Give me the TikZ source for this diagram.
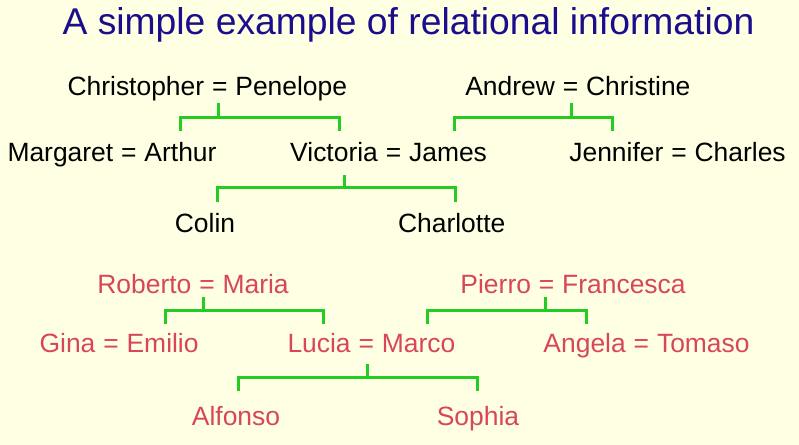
\documentclass[tikz,border=0pt]{standalone}
\usepackage{fontspec}
\setmainfont{Liberation Sans}
\usetikzlibrary{calc,positioning}
\definecolor{paper}{HTML}{FFFFE3}
\definecolor{heading}{HTML}{1A0E8C}
\definecolor{italianred}{HTML}{D8455E}
\definecolor{kinline}{HTML}{22CC22}
\tikzset{
  person/.style={
    font=\fontsize{18.8}{22}\selectfont,
    inner sep=0pt,
    text height=22pt,
    text depth=6.4pt,
    anchor=base
  },
  english/.style={person, text=black},
  italian/.style={person, text=italianred},
  wed/.style={inner xsep=5.2pt},
  title/.style={font=\fontsize{26.5}{30}\selectfont, text=heading, anchor=base},
  kinedge/.style={draw=kinline, line width=0.075cm}
}

\begin{document}
\begin{tikzpicture}[x=0.025cm,y=-0.025cm]
\useasboundingbox (0,0) rectangle (799,445);
\fill[paper] (0,0) rectangle (799,445);

\node[title] (heading) at (408.5,35) {A simple example of relational information};

% english family
\node[english, wed] (cpeq) at (219.8,96) {=};
\node[english, base left=0pt of cpeq] (christopher) {Christopher};
\node[english, base right=0pt of cpeq] (penelope) {Penelope};
\node[english, wed] (aceq) at (570.5,96) {=};
\node[english, base left=0pt of aceq] (andrew) {Andrew};
\node[english, base right=0pt of aceq] (christine) {Christine};

\node[english, wed] (maeq) at (128.9,162) {=};
\node[english, base left=0pt of maeq] (margaret) {Margaret};
\node[english, base right=0pt of maeq] (arthur) {Arthur};
\node[english, wed] (vjeq) at (393.5,162) {=};
\node[english, base left=0pt of vjeq] (victoria) {Victoria};
\node[english, base right=0pt of vjeq] (james) {James};
\node[english, wed] (jceq) at (679,162) {=};
\node[english, base left=0pt of jceq] (jennifer) {Jennifer};
\node[english, base right=0pt of jceq] (charles) {Charles};

\node[english] (colin) at (205,232) {Colin};
\node[english] (charlotte) at (451.7,232) {Charlotte};

% italian family
\node[italian, wed] (rmeq) at (207,293) {=};
\node[italian, base left=0pt of rmeq] (roberto) {Roberto};
\node[italian, base right=0pt of rmeq] (maria) {Maria};
\node[italian, wed] (pfeq) at (546.6,293) {=};
\node[italian, base left=0pt of pfeq] (pierro) {Pierro};
\node[italian, base right=0pt of pfeq] (francesca) {Francesca};

\node[italian, wed] (geeq) at (111,352) {=};
\node[italian, base left=0pt of geeq] (gina) {Gina};
\node[italian, base right=0pt of geeq] (emilio) {Emilio};
\node[italian, wed] (lmeq) at (366.3,352) {=};
\node[italian, base left=0pt of lmeq] (lucia) {Lucia};
\node[italian, base right=0pt of lmeq] (marco) {Marco};
\node[italian, wed] (ateq) at (641.4,352) {=};
\node[italian, base left=0pt of ateq] (angela) {Angela};
\node[italian, base right=0pt of ateq] (tomaso) {Tomaso};

\node[italian] (alfonso) at (236,425) {Alfonso};
\node[italian] (sophia) at (478,425) {Sophia};

% brackets
\draw[kinedge] ($(cpeq.south)+(-1,-2)$) -- ++(0,14) coordinate (cpbar);
\draw[kinedge] (arthur.north) |- (cpbar) -| ($(victoria.north)+(5,0)$);
\draw[kinedge] ($(aceq.south)+(1,-2)$) -- ++(0,14) coordinate (acbar);
\draw[kinedge] ($(james.north)+(6,0)$) |- (acbar) -| ($(jennifer.north)+(-4,0)$);
\draw[kinedge] ($(victoria.south)+(10.5,4)$) -- ++(0,12) coordinate (vjbar);
\draw[kinedge] ($(colin.north)+(12,1)$) |- (vjbar) -| ($(charlotte.north)+(4,1)$);

\draw[kinedge] ($(rmeq.south)+(-4,-5)$) -- ++(0,13) coordinate (rmbar);
\draw[kinedge] ($(emilio.north)+(3,3)$) |- (rmbar) -| ($(lucia.north)+(4,3)$);
\draw[kinedge] ($(pfeq.south)+(-1.5,-5)$) -- ++(0,13) coordinate (pfbar);
\draw[kinedge] ($(marco.north)+(9,3)$) |- (pfbar) -| ($(angela.north)+(2,3)$);
\draw[kinedge] ($(lmeq.south)+(1.5,3)$) -- ++(0,13) coordinate (lmbar);
\draw[kinedge] ($(alfonso.north)+(2,-3)$) |- (lmbar) -| ($(sophia.north)+(-1,-3)$);

\end{tikzpicture}
\end{document}
